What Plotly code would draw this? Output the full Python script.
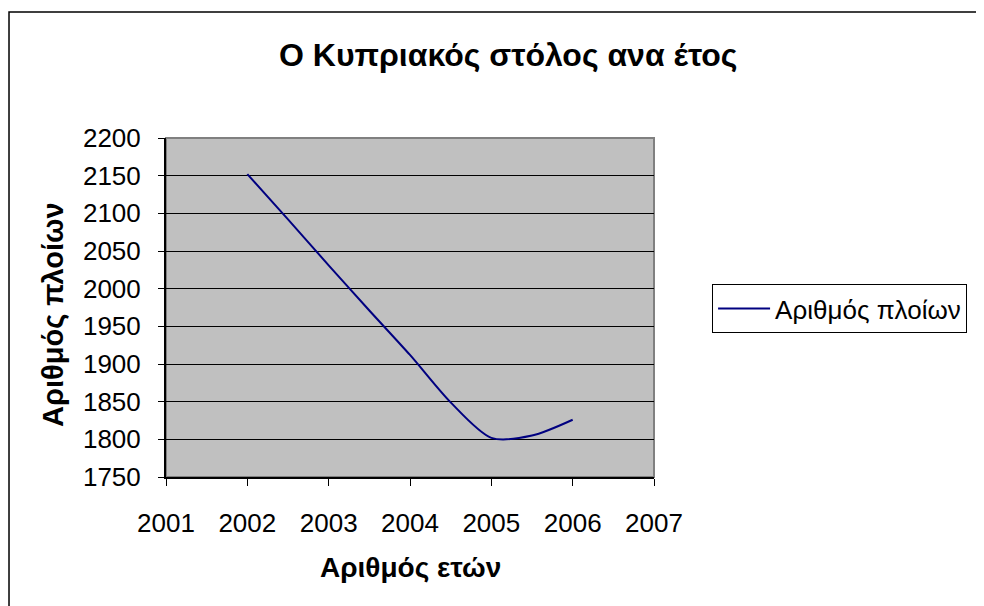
import plotly.graph_objects as go

# Cyprus fleet: number of ships per year
years = [2002, 2002.5, 2003, 2003.5, 2004, 2004.5, 2005, 2005.5, 2006]
ships = [2152, 2092, 2031, 1971, 1912, 1849, 1802, 1805, 1826]

x_ticks = [2001, 2002, 2003, 2004, 2005, 2006, 2007]
y_ticks = [1750, 1800, 1850, 1900, 1950, 2000, 2050, 2100, 2150, 2200]

title_text = "Ο Κυπριακός στόλος ανα έτος"
x_title = "Αριθμός ετών"
y_title = "Αριθμός πλοίων"
series_name = "Αριθμός πλοίων"

FONT = "Arial, 'Liberation Sans', sans-serif"

fig = go.Figure()
fig.add_trace(go.Scatter(
    x=years, y=ships, name=series_name, mode="lines",
    line=dict(color="#000080", width=2, shape="spline", smoothing=0.8),
))

# page body has an 8px margin, so the figure is drawn 8px in from the corner
fig.update_layout(
    width=976, height=598,
    margin=dict(l=158, r=330, t=130, b=129),
    paper_bgcolor="white", plot_bgcolor="#C0C0C0",
    font=dict(family=FONT, color="black", size=26),
    showlegend=True,
    legend=dict(
        x=1.119, y=0.569, xanchor="left", yanchor="top",
        bordercolor="black", borderwidth=1, bgcolor="white",
        font=dict(size=26), itemwidth=52,
    ),
    annotations=[
        dict(text="<b>" + title_text + "</b>", x=0.701, y=1.245, xref="paper", yref="paper",
             showarrow=False, font=dict(size=32), xanchor="center", yanchor="middle"),
        dict(text="<b>" + x_title + "</b>", x=0.5, y=-0.268, xref="paper", yref="paper",
             showarrow=False, font=dict(size=28), xanchor="center", yanchor="middle"),
        dict(text="<b>" + y_title + "</b>", x=-0.2316, y=0.481, xref="paper", yref="paper",
             showarrow=False, font=dict(size=29), textangle=-90,
             xanchor="center", yanchor="middle"),
    ],
    shapes=[
        # plot area frame (grey top/right)
        dict(type="rect", xref="paper", yref="paper", x0=0, x1=1, y0=0, y1=1,
             line=dict(color="#808080", width=2), layer="below"),
        # outer chart border (left and top visible), at the left edge of the figure
        dict(type="path", xref="paper", yref="paper",
             path="M -0.3217,-0.4 L -0.3217,1.3717 L 1.7,1.3717",
             line=dict(color="black", width=1.5)),
    ],
)

fig.update_xaxes(
    range=[2001, 2007], tickvals=x_ticks, ticktext=[str(v) for v in x_ticks],
    showgrid=False, zeroline=False,
    showline=True, linecolor="black", linewidth=2,
    ticks="outside", ticklen=7, tickcolor="black", tickwidth=1,
    ticklabelstandoff=15,
)
fig.update_yaxes(
    range=[1750, 2200], tickvals=y_ticks, ticktext=[str(v) for v in y_ticks],
    showgrid=True, gridcolor="black", gridwidth=1, zeroline=False,
    showline=True, linecolor="black", linewidth=2,
    ticks="outside", ticklen=6, tickcolor="black", tickwidth=1,
    ticklabelstandoff=12,
)

fig.write_html("out.html")
